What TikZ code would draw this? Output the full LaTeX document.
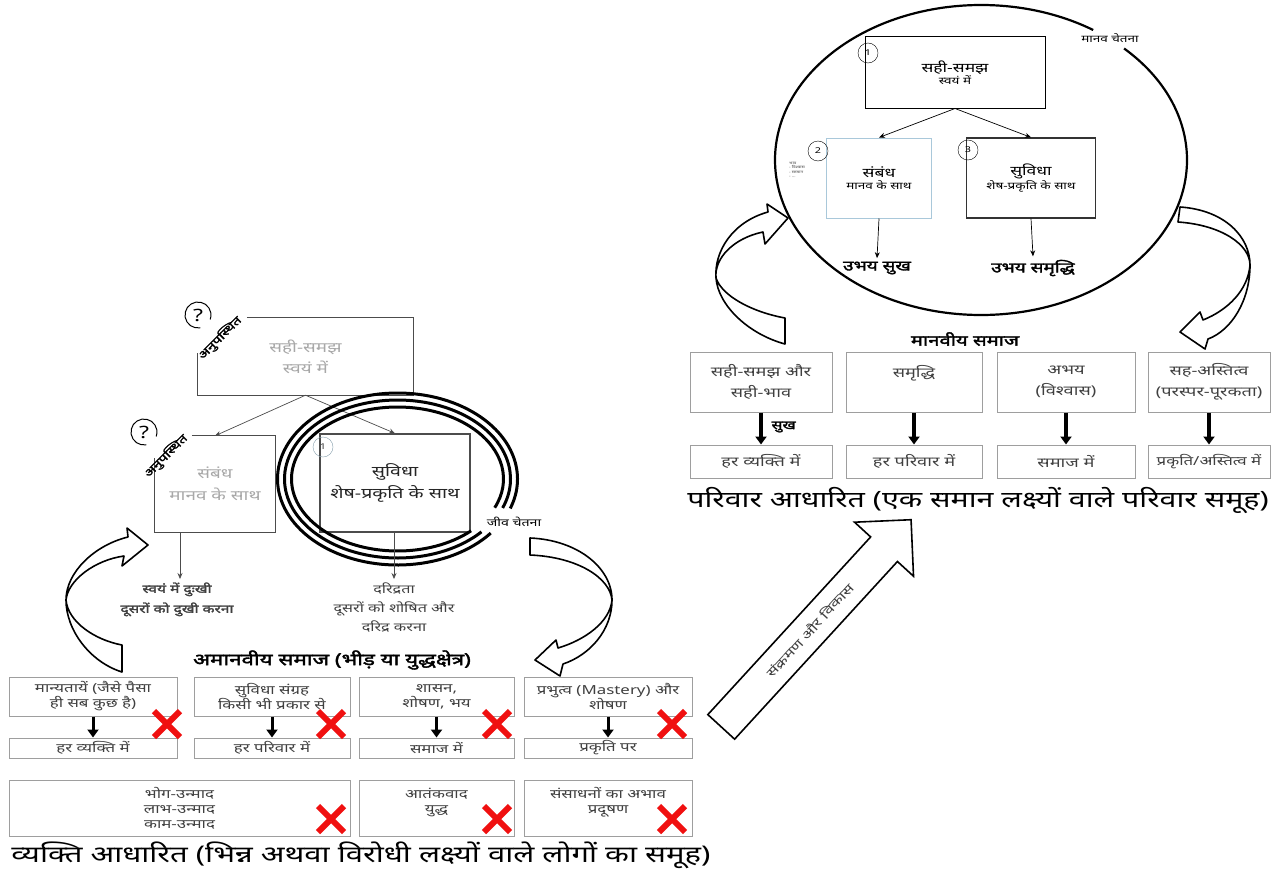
\documentclass[tikz,border=0pt]{standalone}
\usepackage{fontspec}
\setmainfont{Noto Sans}[Script=Devanagari, FakeStretch=1.35, BoldFont={Noto Sans}, BoldFeatures={FakeBold=2.2}]
\usetikzlibrary{arrows.meta,shapes.arrows}

\definecolor{linegray}{HTML}{9E9E9E}
\definecolor{txtgray}{HTML}{404040}
\definecolor{fadegray}{HTML}{A8A8A8}
\definecolor{paleblue}{HTML}{A9C8DA}
\definecolor{crossred}{HTML}{F01010}
\newcommand\fsz[2]{\fontsize{#1}{#2}\selectfont}

\tikzset{
  greybox/.style={draw=linegray, line width=1pt, text=txtgray, align=center, inner sep=1pt},
  lowbox/.style={greybox, font=\fsz{12.5}{15}},
  highbox/.style={greybox, font=\fsz{13.5}{21}},
  lnarrow/.style={-{Stealth[length=6pt,width=5pt]}, line width=0.7pt},
  fatarrow/.style={-{Triangle[length=8pt,width=11pt]}, line width=3.5pt},
  ribbon/.style={draw, fill=white, line width=1.6pt, line join=round},
  ringline/.style={line width=3pt},
  numdot/.style={circle, draw, minimum size=20pt, inner sep=0pt, font=\fsz{8}{9}},
  redx/.pic={\draw[crossred, line width=6pt] (-13,-13) -- (13,13) (-13,13) -- (13,-13);},
}

\begin{document}
\begin{tikzpicture}[x=1pt,y=-1pt]
\useasboundingbox (0,0) rectangle (1284,875);
\fill[white] (0,0) rectangle (1284,875);

% manav chetna
\node[draw, line width=1pt, minimum width=180pt, minimum height=71pt, align=center] (st1) at (955,72.5) {{\fsz{13}{17}सही-समझ}\\{\fsz{10}{13}स्वयं में}};
\node[draw=paleblue, line width=1pt, minimum width=105pt, minimum height=80pt, align=center] (st2) at (879,178) {{\fsz{13}{17}संबंध}\\{\fsz{10}{13}मानव के साथ}};
\node[draw=black!80, line width=1.2pt, minimum width=129pt, minimum height=80pt, align=center] (st3) at (1031,178) {{\fsz{13}{17}सुविधा}\\{\fsz{10}{13}शेष-प्रकृति के साथ}};
\node[numdot] (n1) at (868,53) {1};
\node[numdot] (n2) at (818,151) {2};
\node[numdot] (n3) at (968,150) {3};
\node[align=left, font=\fsz{3.5}{4.5}, text=txtgray] (st2note) at (797,170) {भाव\\- विश्वास\\- सम्मान\\- ...};
\draw[lnarrow] (st1.south) -- (st2.north);
\draw[lnarrow] (st1.south) -- (st3.north);
\node[font=\bfseries\fsz{14}{17}] (ubsukh) at (877,268) {उभय सुख};
\node[font=\bfseries\fsz{14}{17}] (ubsam) at (1033,268) {उभय समृद्धि};
\draw[lnarrow] (st2.south) -- (ubsukh.north);
\draw[lnarrow] (st3.south) -- (ubsam.north);
\draw[line width=2.2pt] ([shift={(-46:206 and 155)}]981,160) arc[start angle=-46, end angle=303, x radius=206, y radius=155];
\node[font=\fsz{10}{12}] (manav) at (1110,38) {मानव चेतना};

\draw[ribbon] (788,218) -- (767,204) -- (768,212)
  .. controls (732,222) and (714,252) .. (716,278)
  .. controls (718,305) and (748,334) .. (785,344) -- (785,318)
  .. controls (752,312) and (722,296) .. (716,278)
  .. controls (714,258) and (734,238) .. (763,232) -- (765,244) -- cycle;
\draw[ribbon] (1180,207) .. controls (1225,210) and (1250,237) .. (1250,265)
  .. controls (1250,300) and (1232,330) .. (1208,339) -- (1205,349) -- (1180,332) -- (1200,312) -- (1203,320)
  .. controls (1228,310) and (1248,290) .. (1250,265)
  .. controls (1250,245) and (1222,225) .. (1178,222) -- cycle;

\node[font=\bfseries\fsz{15}{18}] (hsamaj) at (965,339) {मानवीय समाज};
\node[highbox, minimum width=142pt, minimum height=60pt] (pa) at (761,382) {सही-समझ और\\सही-भाव};
\node[highbox, minimum width=136pt, minimum height=60pt] (pb) at (914,382) {समृद्धि\\\mbox{}};
\node[highbox, minimum width=138pt, minimum height=60pt] (pc) at (1066,382) {अभय\\(विश्वास)};
\node[highbox, minimum width=122pt, minimum height=60pt] (pd) at (1209,382) {सह-अस्तित्व\\(परस्पर-पूरकता)};
\node[highbox, minimum width=142pt, minimum height=33pt] (pa2) at (761,461.5) {हर व्यक्ति में};
\node[highbox, minimum width=136pt, minimum height=33pt] (pb2) at (914,461.5) {हर परिवार में};
\node[highbox, minimum width=138pt, minimum height=33pt] (pc2) at (1066,461.5) {समाज में};
\node[highbox, minimum width=122pt, minimum height=33pt, font=\fsz{12.5}{15}] (pd2) at (1209,461.5) {प्रकृति/अस्तित्व में};
\draw[fatarrow] (pa.south) -- (pa2.north);
\draw[fatarrow] (pb.south) -- (pb2.north);
\draw[fatarrow] (pc.south) -- (pc2.north);
\draw[fatarrow] (pd.south) -- (pd2.north);
\node[font=\bfseries\fsz{12}{14}, anchor=west] (sukh) at (768,427) {सुख};
\node[font=\fsz{22.5}{26}] (parivar) at (978,500) {परिवार आधारित (एक समान लक्ष्यों वाले परिवार समूह)};

\node[single arrow, draw, line width=1.6pt, fill=white, rotate=47.5, minimum height=281pt, minimum width=80pt, inner ysep=11pt, single arrow head extend=21pt, font=\fsz{12.5}{14}, text=txtgray] (vikas) at (810,630) {संक्रमण और विकास};

% jiv chetna
\node[minimum width=215pt, minimum height=77pt, align=center, text=fadegray, font=\fsz{14}{21}] (gsam) at (305.5,356.5) {सही-समझ\\स्वयं में};
\draw[line width=1.3pt, black!70] ([xshift=49pt]gsam.north west) -- (gsam.north east) -- (gsam.south east) -- (gsam.south west) -- ([yshift=4pt]gsam.west);
\node[font=\fsz{17}{18}] (q1) at (198,315) {?};
\draw[line width=1pt] ([shift={(80:13)}]q1.center) arc[start angle=80, end angle=380, radius=13];
\node[font=\bfseries\fsz{11}{12}, rotate=45] (an1) at (220,338) {अनुपस्थित};
\node[minimum width=120pt, minimum height=96pt, align=center, text=fadegray, font=\fsz{14}{22}] (gsam2) at (215,484) {संबंध\\मानव के साथ};
\draw[line width=1.3pt, black!70] ([xshift=37pt]gsam2.north west) -- (gsam2.north east) -- (gsam2.south east) -- (gsam2.south west) -- ([yshift=26pt]gsam2.west);
\node[font=\fsz{17}{18}] (q2) at (144,432) {?};
\draw[line width=1pt] ([shift={(80:13)}]q2.center) arc[start angle=80, end angle=380, radius=13];
\node[font=\bfseries\fsz{11}{12}, rotate=45] (an2) at (166,456) {अनुपस्थित};
\node[draw=black!70, line width=1.3pt, minimum width=150pt, minimum height=98pt, align=center, text=black!85, font=\fsz{14.5}{22}] (suv) at (395,483) {सुविधा\\शेष-प्रकृति के साथ};
\node[numdot, draw=paleblue!80!black, text=txtgray] (c1) at (323,447) {1};
\draw[lnarrow, black!70] (gsam.south) -- (gsam2.north);
\draw[lnarrow, black!70] (gsam.south) -- (suv.north);
\foreach \rx/\ry/\ga/\gb in {120/86/20/39, 113/79/21.5/42, 106/72/23.5/46}
  \draw[ringline] ([shift={(\gb:{\rx} and {\ry})}]397.5,479) arc[start angle=\gb, end angle=360+\ga, x radius=\rx, y radius=\ry];
\node[font=\fsz{10.5}{12}] (jiv) at (514,522) {जीव चेतना};
\node[font=\bfseries\fsz{11.5}{20}, align=center, text=txtgray, anchor=north] (dukh) at (177,579) {स्वयं में दुःखी\\दूसरों को दुखी करना};
\draw[lnarrow, black!70] ([xshift=-35pt]gsam2.south) -- ([xshift=3pt]dukh.north);
\node[font=\fsz{12}{19}, align=center, text=txtgray, anchor=north] (daridr) at (394,579) {दरिद्रता\\दूसरों को शोषित और\\दरिद्र करना};
\draw[lnarrow, black!70] ([xshift=-1pt]suv.south) -- (daridr.north);

\draw[ribbon] (148,545) -- (127,528) -- (128,537)
  .. controls (95,545) and (66,572) .. (66,600)
  .. controls (66,630) and (90,662) .. (122,672) -- (122,645)
  .. controls (95,640) and (68,622) .. (66,600)
  .. controls (68,580) and (95,560) .. (124,556) -- (122,566) -- cycle;
\draw[ribbon] (530,538) .. controls (578,540) and (612,568) .. (612,600)
  .. controls (612,630) and (590,655) .. (563,664) -- (560,676) -- (535,660) -- (556,640) -- (558,648)
  .. controls (585,640) and (610,622) .. (612,600)
  .. controls (610,578) and (578,557) .. (530,555) -- cycle;

\node[font=\bfseries\fsz{16.5}{19}] (asamaj) at (332,660) {अमानवीय समाज (भीड़ या युद्धक्षेत्र)};
\node[lowbox, minimum width=168pt, minimum height=39pt] (b1) at (93,696.5) {मान्यतायें (जैसे पैसा\\ही सब कुछ है)};
\node[lowbox, minimum width=156pt, minimum height=39pt] (b2) at (272,696.5) {सुविधा संग्रह\\किसी भी प्रकार से};
\node[lowbox, minimum width=155pt, minimum height=39pt] (b3) at (436.5,696.5) {शासन,\\शोषण, भय};
\node[lowbox, minimum width=168pt, minimum height=39pt] (b4) at (608,696.5) {प्रभुत्व (Mastery) और\\शोषण};
\node[lowbox, minimum width=168pt, minimum height=20pt] (r1) at (93,748) {हर व्यक्ति में};
\node[lowbox, minimum width=156pt, minimum height=20pt] (r2) at (272,748) {हर परिवार में};
\node[lowbox, minimum width=155pt, minimum height=20pt] (r3) at (436.5,748) {समाज में};
\node[lowbox, minimum width=168pt, minimum height=20pt] (r4) at (608,748) {प्रकृति पर};
\draw[fatarrow, line width=3pt] (b1.south) -- (r1.north);
\draw[fatarrow, line width=3pt] (b2.south) -- (r2.north);
\draw[fatarrow, line width=3pt] (b3.south) -- (r3.north);
\draw[fatarrow, line width=3pt] (b4.south) -- (r4.north);
\node[lowbox, minimum width=341pt, minimum height=56pt] (u1) at (179.5,808) {भोग-उन्माद\\लाभ-उन्माद\\काम-उन्माद};
\node[lowbox, minimum width=155pt, minimum height=56pt] (u2) at (436.5,808) {आतंकवाद\\युद्ध\\\mbox{}};
\node[lowbox, minimum width=168pt, minimum height=56pt] (u3) at (608,808) {संसाधनों का अभाव\\प्रदूषण\\\mbox{}};
\foreach \xx in {167,331,497,672} \pic at (\xx,724) {redx};
\foreach \xx in {331,497,672} \pic at (\xx,819) {redx};
\node[font=\fsz{23}{27}] (vyakti) at (361,855) {व्यक्ति आधारित (भिन्न अथवा विरोधी लक्ष्यों वाले लोगों का समूह)};
\end{tikzpicture}
\end{document}
